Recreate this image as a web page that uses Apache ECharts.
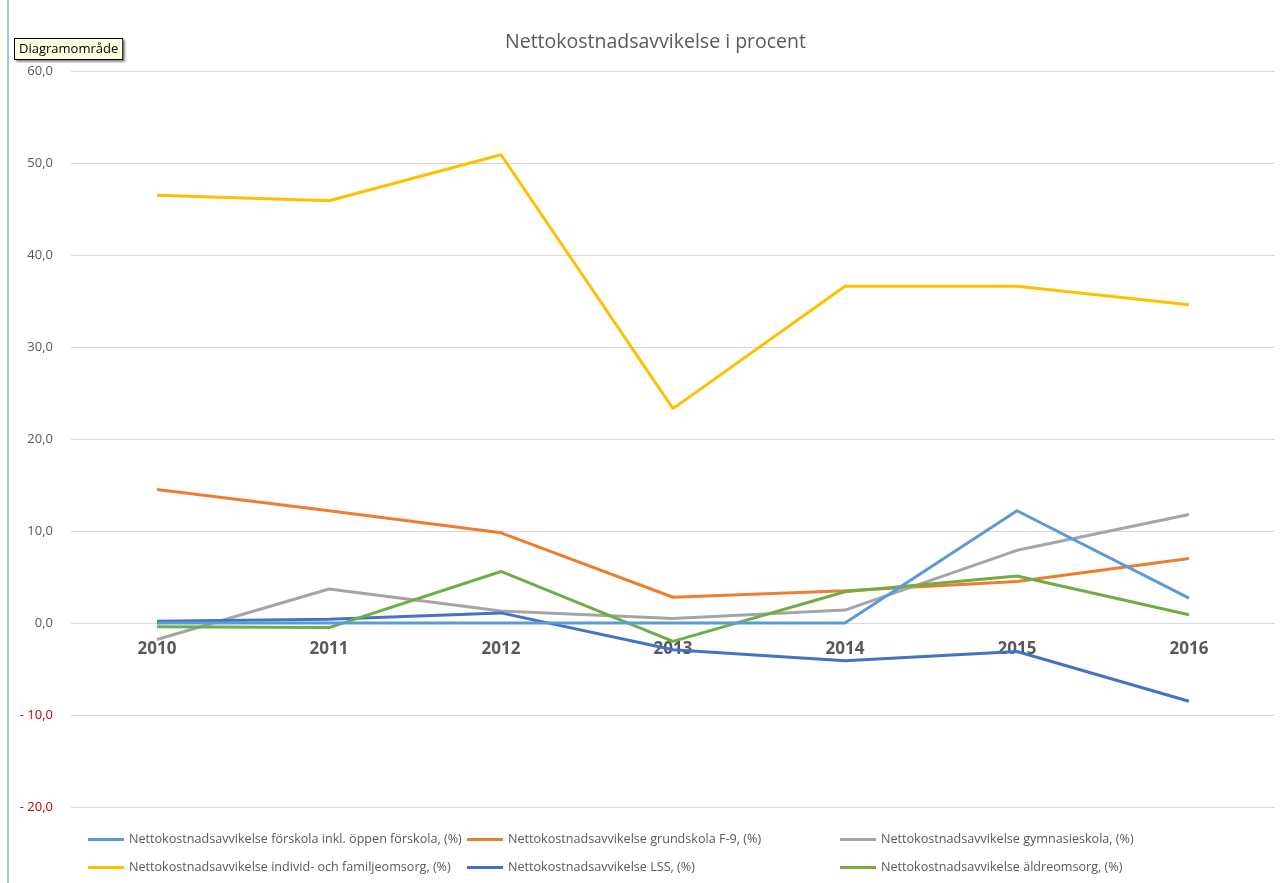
<!DOCTYPE html>
<html>
<head>
<meta charset="utf-8">
<script src="https://cdn.jsdelivr.net/npm/echarts@6/dist/echarts.min.js"></script>
<style>
html,body{margin:0;padding:0;background:#fff;}
#chart{width:1282px;height:883px;}
</style>
</head>
<body>
<div id="chart"></div>
<script>
const years = ['2010','2011','2012','2013','2014','2015','2016'];
const seriesNames = [
  'Nettokostnadsavvikelse förskola inkl. öppen förskola, (%)',
  'Nettokostnadsavvikelse grundskola F-9, (%)',
  'Nettokostnadsavvikelse gymnasieskola, (%)',
  'Nettokostnadsavvikelse individ- och familjeomsorg, (%)',
  'Nettokostnadsavvikelse LSS, (%)',
  'Nettokostnadsavvikelse äldreomsorg, (%)'
];
const forskola = [0.0, 0.0, 0.0, 0.0, 0.0, 12.2, 2.7];
const grundskola = [14.5, 12.2, 9.8, 2.8, 3.5, 4.5, 7.0];
const gymnasieskola = [-1.8, 3.7, 1.3, 0.5, 1.4, 7.9, 11.8];
const ifo = [46.5, 45.9, 50.9, 23.3, 36.6, 36.6, 34.6];
const lss = [0.2, 0.4, 1.1, -2.9, -4.1, -3.1, -8.5];
const aldreomsorg = [-0.4, -0.5, 5.6, -2.0, 3.4, 5.1, 0.9];
const colors = ['#5b9bd5', '#ed7d31', '#a5a5a5', '#ffc000', '#4472c4', '#70ad47'];
const allData = [forskola, grundskola, gymnasieskola, ifo, lss, aldreomsorg];

const font = '"Open Sans", "Noto Sans", sans-serif';
const chart = echarts.init(document.getElementById('chart'));

const legendPos = [
  {left: 83, top: 828}, {left: 462, top: 828}, {left: 835, top: 828},
  {left: 83, top: 856}, {left: 462, top: 856}, {left: 835, top: 856}
];

// the category labels sit just under the zero line: shift the axis up from the grid bottom
const gridTop = 71, gridBottom = 76, chartHeight = 883, yMin = -20, yMax = 60;
const zeroOffset = -((chartHeight - gridTop - gridBottom) * (0 - yMin) / (yMax - yMin));

const option = {
  backgroundColor: '#fff',
  animation: false,
  title: {
    text: 'Nettokostnadsavvikelse i procent',
    left: 500,
    top: 27,
    textStyle: {fontFamily: font, fontSize: 19.5, fontWeight: 'normal', color: '#595959'}
  },
  legend: seriesNames.map((n, i) => ({
    data: [n],
    left: legendPos[i].left,
    top: legendPos[i].top,
    icon: 'rect',
    itemWidth: 36,
    itemHeight: 3,
    itemGap: 5,
    textStyle: {fontFamily: font, fontSize: 12.6, color: '#595959'}
  })),
  grid: {left: 71, right: 7, top: gridTop, bottom: gridBottom, containLabel: false},
  xAxis: {
    type: 'category',
    data: years,
    boundaryGap: true,
    position: 'bottom',
    offset: zeroOffset,
    axisLine: {show: false, onZero: false},
    axisTick: {show: false},
    axisLabel: {fontFamily: font, fontSize: 17, fontWeight: 'bold', color: '#595959', margin: 18}
  },
  yAxis: {
    type: 'value',
    min: yMin,
    max: yMax,
    interval: 10,
    axisLine: {show: false},
    axisTick: {show: false},
    splitLine: {lineStyle: {color: '#d9d9d9', width: 1}},
    axisLabel: {
      margin: 18,
      fontFamily: font,
      fontSize: 13,
      color: '#595959',
      formatter: function (v) {
        const s = Math.abs(v).toFixed(1).replace('.', ',');
        if (v < 0) return '{neg|- ' + s + '}';
        return s;
      },
      rich: {neg: {color: '#c00000', fontFamily: font, fontSize: 13}}
    }
  },
  graphic: [
    {type: 'rect', left: 7, top: 0, shape: {width: 2, height: 883}, style: {fill: '#9dc3e6'}, silent: true},
    {
      type: 'text', left: 14, top: 38,
      style: {
        text: 'Diagramområde', fontFamily: font, fontSize: 13, fill: '#000',
        backgroundColor: '#ffffe1', borderColor: '#000', borderWidth: 1,
        padding: [4, 4, 3, 4], shadowColor: 'rgba(0,0,0,0.35)', shadowOffsetX: 2, shadowOffsetY: 2, shadowBlur: 2
      },
      z: 100
    }
  ],
  series: seriesNames.map((n, i) => ({
    name: n,
    type: 'line',
    data: allData[i],
    symbol: 'none',
    lineStyle: {color: colors[i], width: 3},
    itemStyle: {color: colors[i]},
    z: i === 0 ? 3 : 2
  }))
};
chart.setOption(option);
</script>
</body>
</html>
